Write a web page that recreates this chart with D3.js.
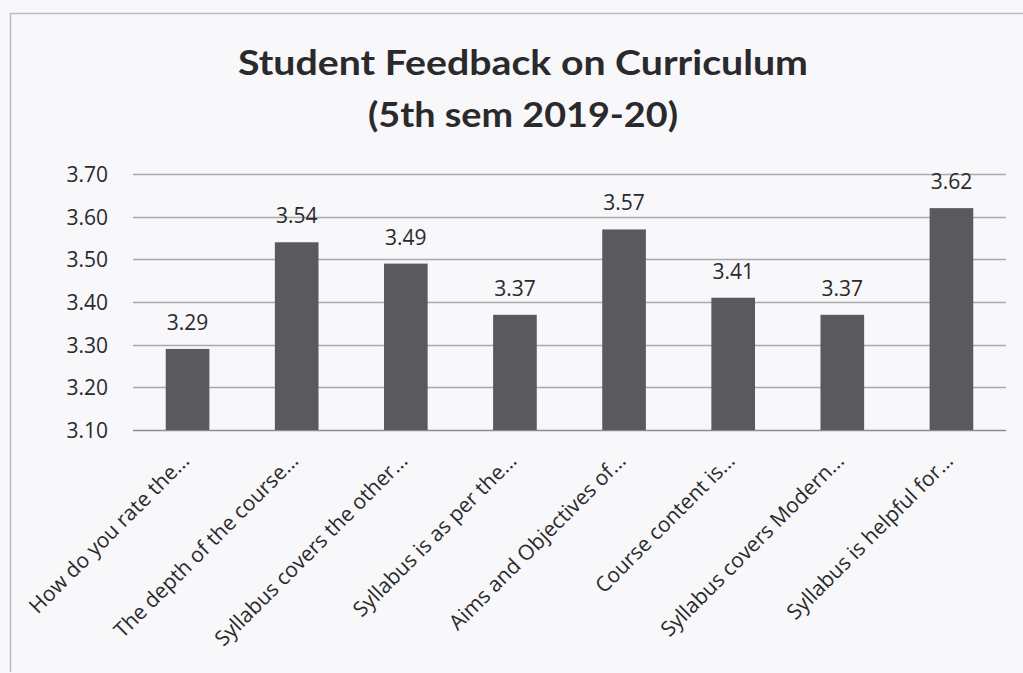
<!DOCTYPE html>
<html>
<head>
<meta charset="utf-8">
<script src="https://cdn.jsdelivr.net/npm/d3@7"></script>
<style>
  html, body { margin: 0; padding: 0; background: #f8f7f9; }
  svg { display: block; }
  text { font-family: "Open Sans", Lato, sans-serif; fill: #2a2a2c; }
</style>
</head>
<body>
<svg id="chart" width="1023" height="673"></svg>
<script>
// Survey questions (truncated as shown on the axis)
const categories = [
  "How do you rate the...",
  "The depth of the course...",
  "Syllabus covers the other...",
  "Syllabus is as per the...",
  "Aims and Objectives of...",
  "Course content is...",
  "Syllabus covers Modern...",
  "Syllabus is helpful for..."
];
// Average rating per question
const ratings = [3.29, 3.54, 3.49, 3.37, 3.57, 3.41, 3.37, 3.62];
// Value axis ticks
const yTicks = [3.10, 3.20, 3.30, 3.40, 3.50, 3.60, 3.70];
const titleLines = ["Student Feedback on Curriculum", "(5th sem 2019-20)"];

const svg = d3.select("#chart");
const plot = { left: 133, right: 1006, top: 174, bottom: 430 };

// chart frame: only the left and top edges are visible
svg.append("path")
  .attr("d", "M10.5,672 L10.5,13.5 L1023,13.5")
  .attr("fill", "none")
  .attr("stroke", "#bdbcc0").attr("stroke-width", 1.5);

const x = d3.scaleBand()
  .domain(categories)
  .range([plot.left, plot.right])
  .paddingInner(0.6).paddingOuter(0.3);

const y = d3.scaleLinear()
  .domain([3.1, 3.7])
  .range([plot.bottom, plot.top]);

// horizontal gridlines
svg.append("g")
  .selectAll("line")
  .data(yTicks)
  .join("line")
  .attr("x1", plot.left).attr("x2", plot.right)
  .attr("y1", d => Math.round(y(d)) + 0.5)
  .attr("y2", d => Math.round(y(d)) + 0.5)
  .attr("stroke", d => d === 3.1 ? "#8c8b8f" : "#a9a8ac")
  .attr("stroke-width", 1.3);

// value axis labels
const yAxis = d3.axisLeft(y)
  .tickValues(yTicks)
  .tickFormat(d3.format(".2f"))
  .tickSize(0)
  .tickPadding(25);
const gy = svg.append("g")
  .attr("transform", `translate(${plot.left},0)`)
  .call(yAxis);
gy.select(".domain").remove();
gy.selectAll("text")
  .style("font-size", "21px")
  .attr("fill", "#2a2a2c")
  .attr("dy", "0.35em");

// bars
svg.append("g")
  .selectAll("rect")
  .data(ratings)
  .join("rect")
  .attr("x", (d, i) => x(categories[i]))
  .attr("width", x.bandwidth())
  .attr("y", d => y(d))
  .attr("height", d => y(3.1) - y(d))
  .attr("fill", "#5a595e");

// value labels above bars
svg.append("g")
  .selectAll("text")
  .data(ratings)
  .join("text")
  .attr("x", (d, i) => x(categories[i]) + x.bandwidth() / 2)
  .attr("y", d => y(d) - 19)
  .attr("text-anchor", "middle")
  .style("font-size", "21px")
  .text(d => d.toFixed(2));

// rotated category labels
const xAxis = d3.axisBottom(x).tickSize(0).tickPadding(0);
const gx = svg.append("g")
  .attr("transform", `translate(0,${plot.bottom})`)
  .call(xAxis);
gx.select(".domain").remove();
gx.selectAll("text")
  .style("font-size", "21px")
  .attr("fill", "#2a2a2c")
  .attr("text-anchor", "end")
  .attr("dy", null)
  .attr("y", 0)
  .attr("transform", "translate(3,32) rotate(-45)");

// title, two centred lines
const titleWidths = [570, 310];
svg.append("g")
  .selectAll("text")
  .data(titleLines)
  .join("text")
  .attr("x", 523)
  .attr("y", (d, i) => 75 + i * 52)
  .attr("text-anchor", "middle")
  .attr("textLength", (d, i) => titleWidths[i])
  .attr("lengthAdjust", "spacingAndGlyphs")
  .style("font-family", "Lato, sans-serif")
  .style("font-size", "35px")
  .style("font-weight", "bold")
  .attr("fill", "#1e1e20")
  .text(d => d);
</script>
</body>
</html>
